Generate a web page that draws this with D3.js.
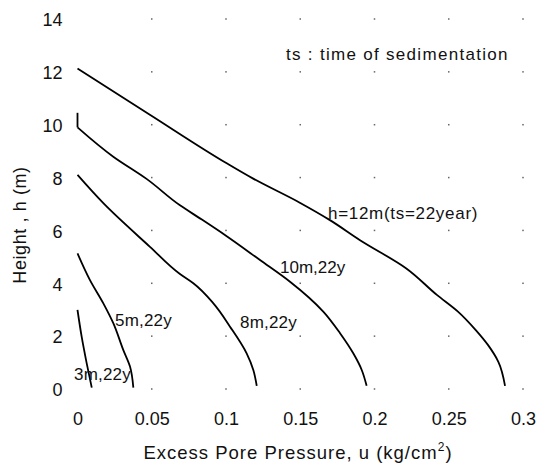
<!DOCTYPE html>
<html>
<head>
<meta charset="utf-8">
<script src="https://cdn.jsdelivr.net/npm/d3@7"></script>
<style>
  html, body { margin: 0; padding: 0; background: #fff; }
  svg text { font-family: "Liberation Sans", Arial, sans-serif; fill: #111; }
</style>
</head>
<body>
<svg id="chart" width="538" height="468"></svg>
<script>
// Excess pore pressure profiles u(h) after 22 years of sedimentation
const xTicks = [0, 0.05, 0.1, 0.15, 0.2, 0.25, 0.3];
const xTickLabels = ["0", "0.05", "0.1", "0.15", "0.2", "0.25", "0.3"];
const yTicks = [0, 2, 4, 6, 8, 10, 12, 14];

const u12 = [0, 0.049, 0.1005, 0.118, 0.150, 0.170, 0.190, 0.2212, 0.242, 0.2562, 0.2682, 0.2765, 0.2834, 0.2879];
const h12 = [12.13, 10.37, 8.54, 7.97, 7.04, 6.39, 5.64, 4.57, 3.56, 2.93, 2.23, 1.66, 1.03, 0.12];

const u10 = [0, 0, 0.0241, 0.0465, 0.069, 0.0835, 0.1, 0.1229, 0.1431, 0.1655, 0.1768, 0.1857, 0.1914, 0.1947];
const h10 = [10.45, 9.9, 8.79, 7.95, 6.95, 6.42, 5.8, 4.88, 4.06, 2.93, 2.11, 1.35, 0.72, 0.12];

const u8 = [0, 0.0174, 0.0488, 0.069, 0.078, 0.0915, 0.1027, 0.1139, 0.1184, 0.1207];
const h8 = [8.1, 7.03, 5.38, 4.35, 4.0, 3.24, 2.36, 1.35, 0.72, 0.12];

const u5 = [0, 0.0084, 0.0174, 0.0241, 0.0308, 0.0354, 0.0376];
const h5 = [5.13, 4.12, 3.24, 2.49, 1.48, 0.84, 0.05];

const u3 = [0, 0.0028, 0.0062, 0.0096];
const h3 = [2.99, 1.98, 0.97, 0.05];

const curveLabels = ["h=12m(ts=22year)", "10m,22y", "8m,22y", "5m,22y", "3m,22y"];
const noteText = "ts : time of sedimentation";

const svg = d3.select("#chart");
svg.append("rect").attr("width", 538).attr("height", 468).attr("fill", "#fff");

const x = d3.scaleLinear().domain([0, 0.3]).range([77.5, 523]);
const y = d3.scaleLinear().domain([0, 14]).range([389, 19]);

// grid dots at tick intersections
const dots = [];
xTicks.slice(1).forEach(xv => yTicks.forEach(yv => dots.push([xv, yv])));
svg.append("g").selectAll("rect").data(dots).join("rect")
  .attr("x", d => x(d[0]) - 0.75).attr("y", d => y(d[1]) - 0.75)
  .attr("width", 1.5).attr("height", 1.5).attr("fill", "#666");

// axes without domain lines or tick marks, labels only
const xAxis = d3.axisBottom(x).tickValues(xTicks)
  .tickFormat((d, i) => xTickLabels[i]).tickSize(0).tickPadding(0);
const gx = svg.append("g").attr("transform", "translate(0,412)").call(xAxis);
gx.select(".domain").remove();
gx.selectAll("text").attr("font-size", 18).attr("font-family", null).attr("fill", "#111");

const yAxis = d3.axisLeft(y).tickValues(yTicks).tickSize(0).tickPadding(15);
const gy = svg.append("g").attr("transform", "translate(77.5,1)").call(yAxis);
gy.select(".domain").remove();
gy.selectAll("text").attr("font-size", 18).attr("font-family", null).attr("fill", "#111");

// curves; the short vertical lead-in of the 10 m profile is kept as a straight segment
const toPoints = (us, hs) => us.map((v, i) => [v, hs[i]]);
const series = [toPoints(u12, h12), toPoints(u10, h10).slice(1), toPoints(u8, h8), toPoints(u5, h5), toPoints(u3, h3)];
const line = d3.line().x(d => x(d[0])).y(d => y(d[1])).curve(d3.curveMonotoneY);
const g = svg.append("g").attr("fill", "none").attr("stroke", "#000")
  .attr("stroke-width", 1.8).attr("stroke-linejoin", "round");
g.selectAll("path.profile").data(series).join("path").attr("class", "profile").attr("d", line);
g.append("path").attr("d", d3.line().x(d => x(d[0])).y(d => y(d[1]))(toPoints(u10, h10).slice(0, 2)));

// curve annotations
const labelPos = [[328, 219], [280, 273], [240, 328], [115, 326], [74, 380]];
const labelSpacing = [0.7, 0, 0.2, 0.2, 0.2];
svg.append("g").selectAll("text").data(curveLabels).join("text")
  .attr("x", (d, i) => labelPos[i][0]).attr("y", (d, i) => labelPos[i][1])
  .attr("font-size", 17).attr("letter-spacing", (d, i) => labelSpacing[i]).text(d => d);

svg.append("text").attr("x", 286).attr("y", 60).attr("font-size", 17)
  .attr("letter-spacing", 1.3).text(noteText);

// axis titles
const xt = svg.append("text").attr("x", 298).attr("y", 459)
  .attr("text-anchor", "middle").attr("font-size", 18.5).attr("letter-spacing", 1);
xt.append("tspan").text("Excess Pore Pressure, u (kg/cm");
xt.append("tspan").attr("font-size", 12).attr("dy", -8).text("2");
xt.append("tspan").attr("dy", 8).text(")");

svg.append("text").attr("transform", "translate(26,225) rotate(-90)")
  .attr("text-anchor", "middle").attr("font-size", 18).attr("letter-spacing", 0.6)
  .text("Height , h (m)");
</script>
</body>
</html>
